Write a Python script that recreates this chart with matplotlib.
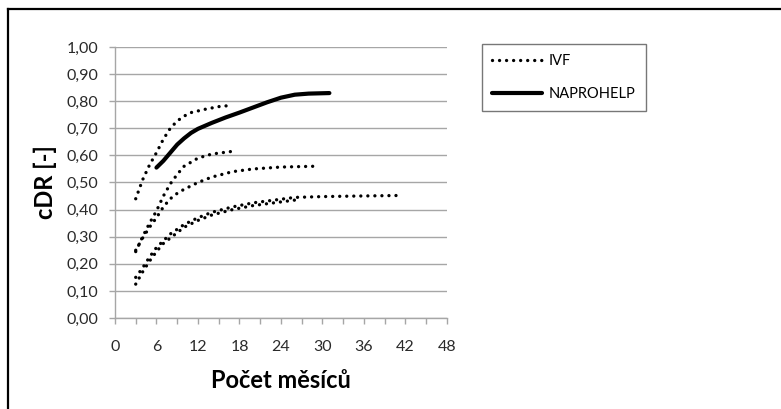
import matplotlib
matplotlib.use('Agg')
import matplotlib.pyplot as plt
from matplotlib.lines import Line2D
from matplotlib.ticker import MultipleLocator

plt.rcParams['font.family'] = ['Lato', 'DejaVu Sans']

# IVF curves (several cohorts), x = months
ivf_a_x = [3, 4, 5, 6, 7, 8, 9, 10, 11, 13, 15, 17]
ivf_a_y = [0.44, 0.51, 0.565, 0.61, 0.66, 0.70, 0.727, 0.745, 0.758, 0.77, 0.78, 0.785]

ivf_b_x = [3, 4, 5, 6, 7, 8, 9, 10, 12, 14, 17]
ivf_b_y = [0.245, 0.30, 0.35, 0.395, 0.45, 0.495, 0.53, 0.56, 0.59, 0.605, 0.615]

ivf_c_x = [3, 4, 5, 6, 7, 8, 9, 10, 12, 14, 17, 20, 24, 29]
ivf_c_y = [0.25, 0.295, 0.335, 0.37, 0.41, 0.44, 0.46, 0.475, 0.50, 0.52, 0.54, 0.55, 0.557, 0.56]

ivf_d_x = [3, 4, 5, 6, 7, 8, 10, 12, 14, 17, 20, 23, 26]
ivf_d_y = [0.125, 0.17, 0.21, 0.245, 0.275, 0.295, 0.335, 0.36, 0.38, 0.40, 0.415, 0.425, 0.435]

ivf_e_x = [3, 4, 5, 6, 7, 8, 10, 12, 14, 17, 20, 23, 26, 30, 35, 41]
ivf_e_y = [0.15, 0.185, 0.225, 0.26, 0.285, 0.31, 0.345, 0.37, 0.39, 0.41, 0.425, 0.435, 0.445, 0.448, 0.45, 0.452]

napro_x = [6, 7, 8, 9, 10, 11, 12, 14, 16, 18, 20, 22, 24, 26, 28, 31]
napro_y = [0.555, 0.58, 0.61, 0.64, 0.663, 0.683, 0.698, 0.72, 0.74, 0.758, 0.777, 0.796, 0.813, 0.824, 0.828, 0.83]

ivf_series = [(ivf_a_x, ivf_a_y), (ivf_b_x, ivf_b_y), (ivf_c_x, ivf_c_y),
              (ivf_d_x, ivf_d_y), (ivf_e_x, ivf_e_y)]

y_ticks = [i / 10 for i in range(11)]
y_labels = [('%.2f' % v).replace('.', ',') for v in y_ticks]

fig = plt.figure(figsize=(7.81, 4.09), dpi=100)
ax = fig.add_axes([0.1472, 0.2225, 0.4251, 0.6626])

dot_style = dict(color='black', lw=2.4, linestyle=(0, (0.01, 2.1)),
                 dash_capstyle='round', solid_capstyle='round')

first = True
for xs, ys in ivf_series:
    ax.plot(xs, ys, label='IVF' if first else None, **dot_style)
    first = False

ax.plot(napro_x, napro_y, color='black', lw=3, label='NAPROHELP',
        solid_capstyle='round')

ax.set_xlim(0, 48)
ax.set_ylim(0, 1.0)
ax.xaxis.set_major_locator(MultipleLocator(6))
ax.xaxis.set_minor_locator(MultipleLocator(3))
ax.set_yticks(y_ticks)
ax.set_yticklabels(y_labels)

ax.grid(axis='y', color='#a6a6a6', lw=1)
ax.set_axisbelow(True)
for s in ['top', 'right']:
    ax.spines[s].set_visible(False)
for s in ['left', 'bottom']:
    ax.spines[s].set_color('#a6a6a6')
    ax.spines[s].set_linewidth(1)

ax.tick_params(axis='both', which='both', direction='out', color='#a6a6a6',
               length=4, width=1, labelsize=11.5, labelcolor='#2a2a2a')
ax.tick_params(axis='x', which='major', pad=12)
ax.tick_params(axis='y', which='major', pad=8)

ax.set_xlabel('Počet měsíců', fontsize=17, fontweight='bold', labelpad=11)
ax.set_ylabel('cDR [-]', fontsize=17, fontweight='bold', labelpad=7)

leg = ax.legend(loc='upper left', bbox_to_anchor=(0.617, 0.892),
                bbox_transform=fig.transFigure, frameon=True, fancybox=False,
                fontsize=10.5, handlelength=3.4, handletextpad=0.5,
                labelspacing=1.25, borderpad=0.7, borderaxespad=0)
leg.get_frame().set_edgecolor('#555555')
leg.get_frame().set_linewidth(1)

# outer frame of the chart area
fig.add_artist(Line2D([8 / 781, 8 / 781], [0, 1 - 9 / 409], color='black', lw=1.6,
                      transform=fig.transFigure))
fig.add_artist(Line2D([8 / 781, 1], [1 - 9 / 409, 1 - 9 / 409], color='black', lw=1.6,
                      transform=fig.transFigure))

fig.savefig('out.png', dpi=100)
